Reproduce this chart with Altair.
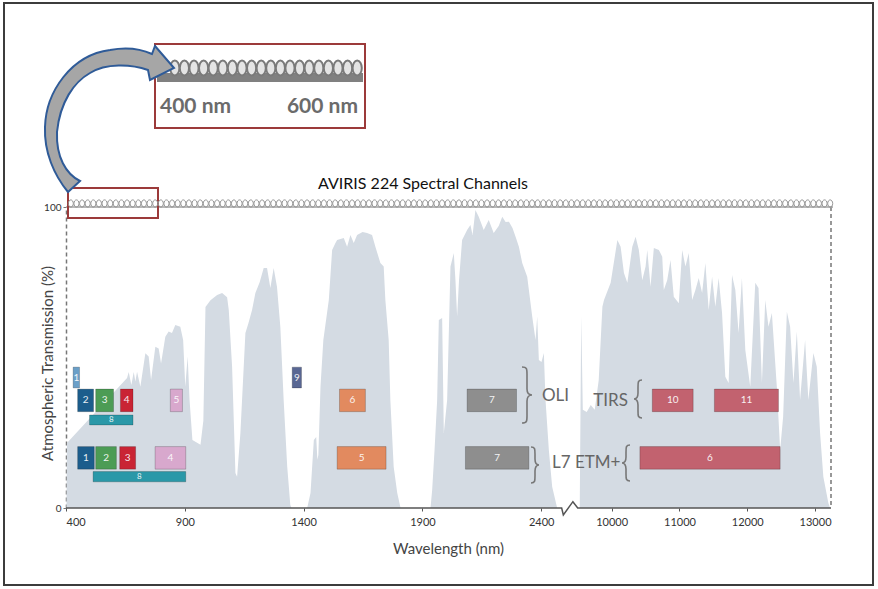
import altair as alt
import pandas as pd

# ---------------- data ----------------
# atmospheric transmission curve (wavelength nm, transmission %)
wl_nm = [402, 404, 657, 664, 675, 685, 692, 699, 713, 734, 748, 758, 776, 790, 800, 818, 832, 846, 860, 881,
         893, 902, 912, 920, 932, 966, 978, 987, 1008, 1036, 1057, 1078, 1085, 1099, 1113, 1120, 1134, 1155,
         1168, 1183, 1197, 1215, 1232, 1246, 1260, 1274, 1288, 1302, 1316, 1331, 1344, 1349, 1415, 1429, 1443,
         1453, 1458, 1462, 1471, 1483, 1506, 1520, 1534, 1541, 1569, 1583, 1597, 1611, 1625, 1648, 1667, 1688,
         1702, 1723, 1737, 1744, 1758, 1765, 1779, 1794, 1808, 1934, 1941, 1951, 1962, 1969, 1983, 1990, 2004,
         2018, 2032, 2039, 2046, 2054, 2067, 2088, 2102, 2111, 2123, 2137, 2158, 2179, 2200, 2221, 2236, 2250,
         2264, 2279, 2292, 2306, 2320, 2341, 2348, 2362, 2376, 2383, 2390, 2401, 2411, 2418, 2432, 2446, 2467,
         9529, 9551, 9574, 9632, 9691, 9750, 9809, 9863, 9887, 9985, 10084, 10132, 10181, 10231, 10304, 10353,
         10401, 10451, 10500, 10525, 10573, 10622, 10696, 10746, 10769, 10819, 10868, 10916, 10990, 11040, 11088,
         11137, 11187, 11235, 11284, 11334, 11382, 11431, 11481, 11529, 11578, 11628, 11676, 11725, 11775, 11824,
         11872, 11921, 11971, 12044, 12118, 12166, 12216, 12265, 12313, 12363, 12436, 12485, 12529, 12584, 12632,
         12681, 12731, 12779, 12853, 12901, 12975, 13025, 13074, 13122, 13196, 13221]
trans_pct = [0, 21.6, 43.2, 45.2, 40.9, 45.2, 42.0, 45.3, 40.3, 51.4, 50.3, 42.5, 53.6, 53.0, 48.0, 56.9, 58.6,
             58.1, 60.8, 60.2, 55.8, 40.3, 50.3, 35.9, 22.6, 21.0, 29.0, 66.8, 69.0, 70.8, 71.4, 70.0, 65.8, 46.9,
             11.6, 10.4, 24.9, 58.1, 61.5, 65.8, 71.4, 75.0, 79.7, 79.7, 73.1, 79.7, 73.4, 60.2, 35.9, 13.7, 1.0, 0,
             0, 5.0, 22.6, 23.6, 16.0, 17.6, 40.3, 55.8, 69.1, 85.7, 88.0, 89.0, 89.7, 86.8, 90.7, 88.0, 90.7, 91.7,
             91.4, 90.7, 86.8, 81.4, 80.2, 69.1, 55.8, 35.9, 13.7, 5.0, 0, 0, 6.0, 19.3, 35.9, 62.5, 63.1, 24.9,
             35.9, 80.2, 84.7, 75.7, 63.6, 75.7, 89.0, 92.4, 94.0, 90.7, 99.0, 96.8, 92.4, 95.7, 91.4, 93.7, 96.8,
             95.0, 95.1, 93.0, 90.1, 86.8, 81.4, 76.8, 72.4, 63.6, 55.8, 63.6, 49.2, 48.5, 51.5, 35.9, 19.3, 7.1, 0,
             0, 63.8, 32.6, 31.9, 34.2, 32.6, 42.5, 66.9, 69.1, 74.8, 89.0, 86.8, 78.1, 74.8, 86.8, 90.1, 85.7,
             75.7, 80.2, 85.7, 73.5, 86.4, 85.7, 83.5, 72.4, 75.7, 82.4, 70.2, 68.0, 85.7, 80.2, 84.7, 69.1, 72.4,
             76.4, 71.4, 81.4, 65.8, 76.8, 66.9, 76.4, 64.8, 43.6, 41.5, 77.4, 72.4, 58.1, 76.4, 52.5, 40.3, 74.8,
             73.1, 41.5, 69.1, 60.2, 64.8, 40.3, 19.3, 30.3, 65.2, 60.2, 41.5, 58.6, 35.9, 55.8, 35.9, 51.5, 46.9,
             24.9, 10.4, 1.7, 0]

# Landsat bands as drawn
band_sensor = ["OLI"] * 11 + ["ETM+"] * 8
band_label = ["1", "2", "3", "4", "5", "8", "9", "6", "7", "10", "11",
              "1", "2", "3", "4", "8", "5", "7", "6"]
band_start = [430, 449, 525, 629, 839, 499, 1352, 1551, 2088, 10599, 11515,
              449, 525, 626, 775, 514, 1541, 2081, 10416]
band_end = [457, 516, 600, 682, 890, 682, 1391, 1660, 2296, 11202, 12460,
            519, 612, 693, 904, 904, 1747, 2348, 12485]
band_row = ["top", "oli", "oli", "oli", "oli", "oli_pan", "top", "oli", "oli", "oli", "oli",
            "etm", "etm", "etm", "etm", "etm_pan", "etm", "etm", "etm"]
band_region = ["coastal", "blue", "green", "red", "nir", "pan", "cirrus", "swir1", "swir2", "tir", "tir",
               "blue", "green", "red", "nir", "pan", "swir1", "swir2", "tir"]

tick_values = [400, 900, 1400, 1900, 2400, 10000, 11000, 12000, 13000]
n_aviris_loops = 136
n_inset_loops = 20

# ---------------- layout / style ----------------
W, H = 765, 301
FONT = "Lato"
row_extent = {"top": (46.8, 39.9), "oli": (39.5, 32.0), "oli_pan": (30.9, 27.6),
              "etm": (20.4, 12.9), "etm_pan": (12.1, 8.7)}
region_dom = ["coastal", "blue", "green", "red", "nir", "pan", "cirrus", "swir1", "swir2", "tir"]
region_col = ["#6a9fc8", "#1c5d8c", "#4c9c55", "#c92434", "#d8a8cd", "#2a98a8", "#596793",
              "#e28a5f", "#8e8e8e", "#c2626f"]

curve = pd.DataFrame({"wl": wl_nm, "pct": trans_pct})
bands = pd.DataFrame({"sensor": band_sensor, "label": band_label, "wl": band_start,
                      "wl_end": band_end, "row": band_row, "region": band_region})
bands["pct"] = [row_extent[r][0] for r in bands["row"]]
bands["pct2"] = [row_extent[r][1] for r in bands["row"]]
labels = bands.copy()
labels["wl"] = (bands["wl"] + bands["wl_end"]) / 2
labels["pct"] = (bands["pct"] + bands["pct2"]) / 2
labels["fs"] = [8 if r.endswith("pan") else 10 for r in bands["row"]]

baseline = pd.DataFrame({"wl": [400, 2486, 2493, 9428, 9499, 13235],
                         "pct": [0, 0, -2.3, 2.1, 0, 0]})

xscale = alt.Scale(domain=[400, 2500, 9400, 13235], range=[0, 499, 505, 765], zero=False, nice=False)
yscale = alt.Scale(domain=[0, 100], nice=False, zero=False)
one = pd.DataFrame({"k": [0]})

area = alt.Chart(curve).mark_area(color="#d4dbe3", interpolate="linear").encode(
    x=alt.X("wl:Q", scale=xscale,
            axis=alt.Axis(values=tick_values, format="d", domain=False, grid=False, tickSize=3,
                          tickColor="#555", tickWidth=1, labelFont=FONT, labelFontSize=11, labelColor="#333",
                          labelPadding=5, title="Wavelength (nm)", titleFont=FONT, titleFontSize=15,
                          titleFontWeight="normal", titleColor="#444", titleX=382, titleY=40,
                          titleAlign="center", titleBaseline="middle")),
    y=alt.Y("pct:Q", scale=yscale,
            axis=alt.Axis(values=[0, 100], grid=False, domainDash=[4, 3], domainColor="#777", domainWidth=1.5,
                          tickSize=3, tickColor="#777", labelFont=FONT, labelFontSize=10, labelColor="#333",
                          labelPadding=2, title="Atmospheric Transmission (%)", titleFont=FONT,
                          titleFontSize=15, titleFontWeight="normal", titleColor="#444", titleX=-19,
                          titleY=156, titleAngle=270, titleAlign="center", titleBaseline="middle")),
)

base_line = alt.Chart(baseline).mark_line(color="#555", strokeWidth=1.5).encode(
    x=alt.X("wl:Q", scale=xscale), y=alt.Y("pct:Q", scale=yscale))

right_dash = alt.Chart(one).mark_rule(color="#777", strokeWidth=1.5, strokeDash=[4, 3]).encode(
    x=alt.value(W), y=alt.value(0), y2=alt.value(H - 3))

band_rects = alt.Chart(bands).mark_rect(stroke="black", strokeOpacity=0.2, strokeWidth=1).encode(
    x=alt.X("wl:Q", scale=xscale), x2="wl_end:Q",
    y=alt.Y("pct:Q", scale=yscale), y2="pct2:Q",
    color=alt.Color("region:N", scale=alt.Scale(domain=region_dom, range=region_col), legend=None))

band_text = alt.Chart(labels).mark_text(color="white", opacity=0.9, font=FONT, baseline="middle",
                                         align="center").encode(
    x=alt.X("wl:Q", scale=xscale), y=alt.Y("pct:Q", scale=yscale), text="label:N",
    size=alt.Size("fs:Q", scale=None))


def brace(h, w, left=False):
    s = -1 if left else 1
    return (f"M{-w*s},{-h}C{0.2*s},{-h} 0,{-h+2} 0,{-h+8}L0,-6C0,-2 {0.4*w*s},0 {w*s},0"
            f"C{0.4*w*s},0 0,2 0,6L0,{h-8}C0,{h-2} {0.2*s},{h} {-w*s},{h}")


def brace_mark(x, y, h, w, left):
    return alt.Chart(one).mark_point(shape=brace(h, w, left), size=4, filled=False, stroke="#777",
                                     strokeWidth=1.6, opacity=1).encode(x=alt.value(x), y=alt.value(y))


braces = [brace_mark(461, 188, 28, 5, False), brace_mark(469, 258, 18, 4, False),
          brace_mark(572, 192, 19, 4, True), brace_mark(560, 256, 18, 4, True)]


def label(txt, x, y, align, size=17, color="#666", weight="normal"):
    return alt.Chart(one).mark_text(text=txt, font=FONT, fontSize=size, color=color, align=align,
                                    baseline="middle", fontWeight=weight).encode(
        x=alt.value(x), y=alt.value(y))


texts = [label("OLI", 476, 189, "left"), label("L7 ETM+", 486, 256, "left"),
         label("TIRS", 562, 194, "right"),
         label("AVIRIS 224 Spectral Channels", 357, -23, "center", 16, "#111"),
         label("400 nm", 94, -100, "left", 21, "#6b6b6b", "bold"),
         label("600 nm", 292, -100, "right", 21, "#6b6b6b", "bold")]

frame = alt.Chart(one).mark_rect(fillOpacity=0, stroke="#3c3c3c", strokeWidth=2).encode(
    x=alt.value(-62), x2=alt.value(807), y=alt.value(-204), y2=alt.value(378))
inset_box = alt.Chart(one).mark_rect(fillOpacity=0, stroke="#9c3a3a", strokeWidth=2).encode(
    x=alt.value(89), x2=alt.value(299), y=alt.value(-163), y2=alt.value(-79))
small_box = alt.Chart(one).mark_rect(fillOpacity=0, stroke="#9c3a3a", strokeWidth=2).encode(
    x=alt.value(2), x2=alt.value(92), y=alt.value(-19), y2=alt.value(11))
inset_band = alt.Chart(one).mark_rect(color="#808080").encode(
    x=alt.value(91), x2=alt.value(297), y=alt.value(-134), y2=alt.value(-125))
top_rule = alt.Chart(one).mark_rule(color="#a0a0a0", strokeWidth=1.5).encode(
    x=alt.value(0), x2=alt.value(767), y=alt.value(0))

ARROW = ("M2,-15C-12,-32 -22,-55 -21,-80C-20,-115 5,-152 44,-157C60,-160 75,-158 86,-153"
         "L89,-161L108,-139L84,-127L82,-137C65,-143 40,-144 24,-134C8,-125 -6,-105 -9,-75"
         "C-10,-50 0,-33 14,-26Z")
arrow = alt.Chart(one).mark_point(shape=ARROW, size=4, filled=True, fill="#a6a6a6", stroke="#2f5b98",
                                  strokeWidth=2, opacity=1).encode(x=alt.value(0), y=alt.value(0))

core = alt.layer(area, base_line, right_dash, top_rule, band_rects, band_text, *braces, *texts,
                 frame, inset_band, inset_box, small_box)

SMALL_LOOP = "M0,-3.6A2.5,3.6,0,1,1,0,3.6A2.5,3.6,0,1,1,0,-3.6Z"
BIG_LOOP = "M0,-7.5A4.6,7.5,0,1,1,0,7.5A4.6,7.5,0,1,1,0,-7.5Z"

loops_main = alt.Chart(pd.DataFrame({"ch": list(range(1, n_aviris_loops + 1))})).mark_point(
    shape=SMALL_LOOP, size=4, filled=False, stroke="#939393", strokeWidth=1, opacity=1).encode(
    x=alt.X("ch:Q", scale=alt.Scale(domain=[0.5, n_aviris_loops + 0.5], range=[2, 767]), axis=None),
    y=alt.value(-3.5))

loops_inset = alt.Chart(pd.DataFrame({"ch": list(range(1, n_inset_loops + 1))})).mark_point(
    shape=BIG_LOOP, size=4, filled=True, fill="#e4e4e4", stroke="#7a7a7a", strokeWidth=2,
    opacity=1).encode(
    x=alt.X("ch:Q", scale=alt.Scale(domain=[0.5, n_inset_loops + 0.5], range=[104, 296]), axis=None),
    y=alt.value(-139))

chart = alt.layer(core, loops_main, loops_inset, arrow).resolve_scale(x="independent").properties(
    width=W, height=H,
    padding={"left": 66, "top": 207, "right": 47, "bottom": 81},
    autosize=alt.AutoSizeParams(type="none"),
    background="white",
).configure_view(strokeWidth=0)

chart.save("out.html", embed_options={"renderer": "svg", "actions": False})
